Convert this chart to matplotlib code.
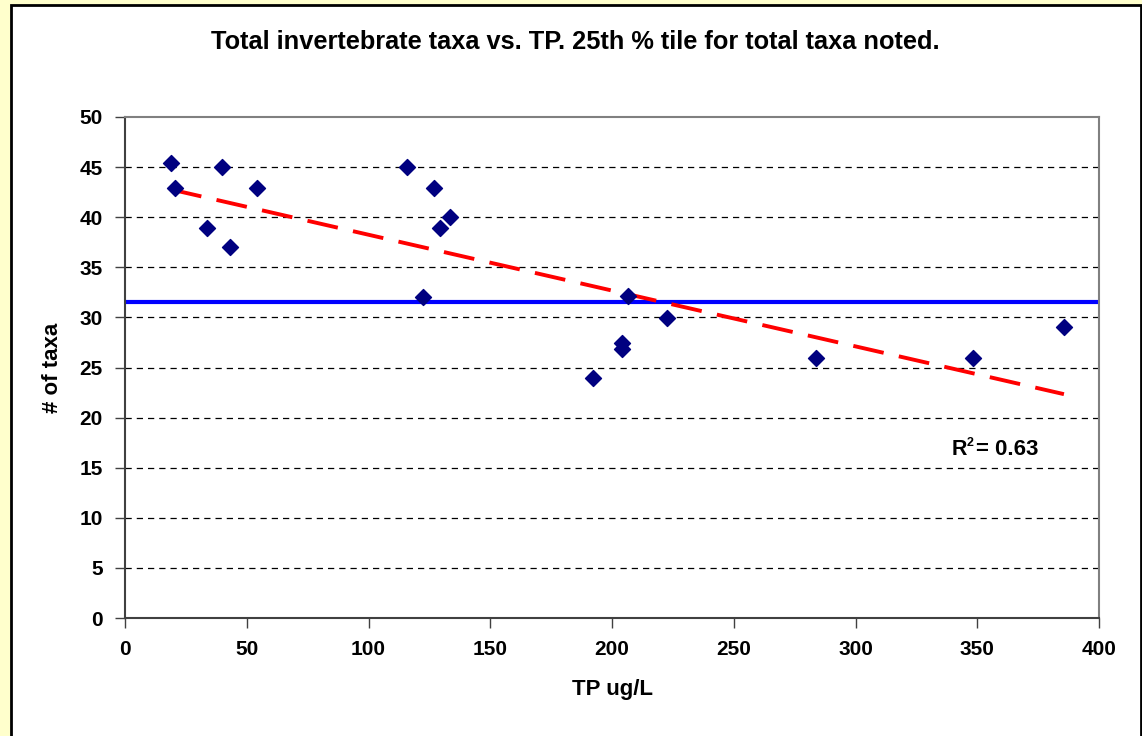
import matplotlib.pyplot as plt
import matplotlib.patches as patches
import numpy as np

plt.rcParams['font.family'] = ['Liberation Sans', 'DejaVu Sans']
plt.rcParams['font.weight'] = 'bold'

# data
tp = [18.9, 20.5, 33.6, 39.8, 43.1, 54.2, 115.7, 122.3, 126.8, 129.2, 133.3,
      192.0, 204.3, 204.3, 206.4, 222.4, 283.9, 348.3, 385.6]
taxa = [45.4, 42.9, 38.9, 45.0, 37.0, 42.9, 45.0, 32.0, 42.9, 38.9, 40.0,
        24.0, 27.4, 26.8, 32.1, 29.9, 25.9, 25.9, 29.0]
pct25 = 31.5
r2_value = "0.63"

W, H = 1142, 736
fig = plt.figure(figsize=(W / 100, H / 100), dpi=100)
fig.patch.set_facecolor('#FFFFCC')

# white chart panel with black border
panel = patches.Rectangle((10.5 / W, -0.01), (1140.5 - 10.5) / W, (H - 5) / H + 0.01,
                          transform=fig.transFigure, facecolor='white',
                          edgecolor='black', linewidth=2, zorder=-10)
fig.patches.append(panel)

ax = fig.add_axes([125 / W, (H - 618) / H, (1099 - 125) / W, (618 - 117) / H])
ax.set_zorder(1)
ax.set_facecolor('white')

ax.set_xlim(0, 400)
ax.set_ylim(0, 50)
ax.set_xticks(np.arange(0, 401, 50))
ax.set_yticks(np.arange(0, 51, 5))

for y in range(5, 50, 5):
    ax.axhline(y, color='black', linestyle=(0, (5, 4)), linewidth=0.9, zorder=1)

ax.axhline(pct25, color='#0000FF', linewidth=3, zorder=2)

# linear trendline
m, b = np.polyfit(tp, taxa, 1)
xs = np.array([min(tp), max(tp)])
ax.plot(xs, m * xs + b, color='#FF0000', linewidth=2.8,
        linestyle=(0, (8, 4)), zorder=3)

ax.scatter(tp, taxa, marker='D', s=66, color='#000080', zorder=4)

# R^2 label with a small superscript
anchor = (339.5, 16.8)
ax.annotate('R', anchor, xytext=(0, 0), textcoords='offset points',
            fontsize=15.5, fontweight='bold', ha='left', va='center')
ax.annotate('2', anchor, xytext=(11, 5), textcoords='offset points',
            fontsize=9, fontweight='bold', ha='left', va='center')
ax.annotate('= ' + r2_value, anchor, xytext=(17.5, 0), textcoords='offset points',
            fontsize=16, fontweight='bold', ha='left', va='center')

for side in ['top', 'right']:
    ax.spines[side].set_color('#808080')
    ax.spines[side].set_linewidth(1.5)
for side in ['left', 'bottom']:
    ax.spines[side].set_color('#404040')
    ax.spines[side].set_linewidth(1.5)

ax.tick_params(direction='out', length=7, width=1, color='#404040',
               labelsize=15, pad=9)
for lbl in ax.get_xticklabels() + ax.get_yticklabels():
    lbl.set_fontweight('bold')

ax.set_xlabel('TP ug/L', fontsize=16, fontweight='bold', labelpad=14)
ax.set_ylabel('# of taxa', fontsize=16, fontweight='bold', labelpad=12)

fig.text(575 / W, 1 - 42 / H, 'Total invertebrate taxa vs. TP. 25th % tile for total taxa noted.',
         fontsize=18.3, fontweight='bold', ha='center', va='center')

fig.savefig('out.png', dpi=100, facecolor=fig.get_facecolor())
